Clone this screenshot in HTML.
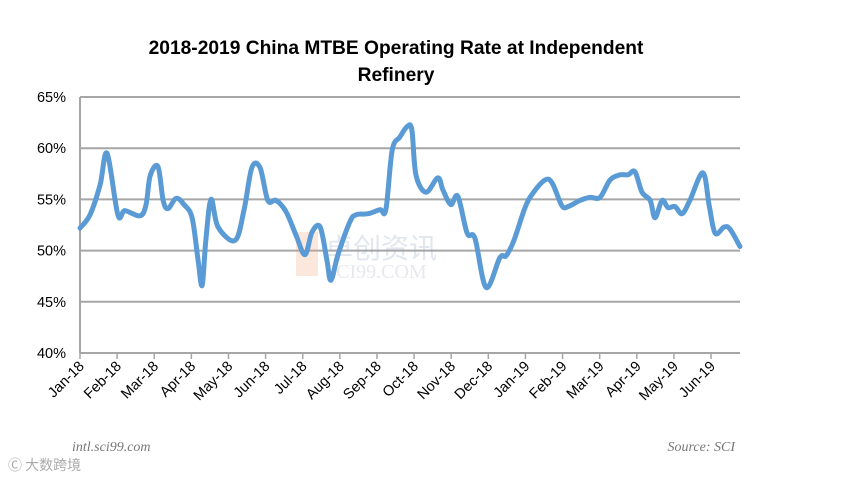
<!DOCTYPE html>
<html><head><meta charset="utf-8"><style>
body{margin:0;background:#fff;width:842px;height:480px;overflow:hidden;font-family:"Liberation Sans",sans-serif}
</style></head><body>
<svg width="842" height="480" id="svg">
<text x="396" y="54" text-anchor="middle" font-size="19.2" font-weight="bold" fill="#000">2018-2019 China MTBE Operating Rate at Independent</text>
<text x="396" y="81" text-anchor="middle" font-size="19.2" font-weight="bold" fill="#000">Refinery</text>
<g id="grid"></g><g id="axes"></g>
<g opacity="0.25">
<rect x="296" y="232" width="22" height="44" fill="#f4a37c"/>
<text x="325" y="258" font-size="28" fill="#8aa0c0" font-family="Noto Sans CJK SC,sans-serif">卓创资讯</text>
<text x="325" y="278" font-size="20" fill="#a0a8b8" font-family="Liberation Serif,serif">SCI99.COM</text>
</g>
<path id="line" fill="none" stroke="#5b9bd5" stroke-width="5" stroke-linejoin="round" stroke-linecap="round"/>
<text x="72" y="451" font-size="14" font-style="italic" fill="#777" font-family="Liberation Serif,serif">intl.sci99.com</text>
<text x="735" y="451" text-anchor="end" font-size="14" font-style="italic" fill="#777" font-family="Liberation Serif,serif">Source: SCI</text>
<text x="8" y="470" font-size="14" fill="#aaa" font-family="Noto Sans CJK SC,sans-serif">Ⓒ 大数跨境</text>
</svg>
<script>
const yTicks=[40,45,50,55,60,65];
const months=["Jan-18","Feb-18","Mar-18","Apr-18","May-18","Jun-18","Jul-18","Aug-18","Sep-18","Oct-18","Nov-18","Dec-18","Jan-19","Feb-19","Mar-19","Apr-19","May-19","Jun-19"];
const t=[0,.27,.54,.73,1.02,1.21,1.62,1.78,1.89,2.10,2.24,2.37,2.59,2.80,3.02,3.18,3.29,3.39,3.53,3.72,4.18,4.42,4.63,4.85,5.06,5.28,5.55,5.82,6.06,6.25,6.47,6.65,6.76,6.95,7.27,7.44,7.76,8.08,8.24,8.41,8.62,8.81,8.94,9.05,9.32,9.64,9.78,9.99,10.18,10.43,10.64,10.94,11.31,11.48,11.69,11.99,12.20,12.53,12.72,12.98,13.15,13.47,13.74,14.01,14.28,14.55,14.76,14.95,15.14,15.36,15.49,15.68,15.84,16.03,16.22,16.43,16.78,16.95,17.11,17.35,17.51,17.78];
const rate=[52.2,53.5,56.4,59.5,53.5,53.9,53.4,54.5,57.3,58.2,54.9,54.1,55.1,54.5,53.2,49.1,46.6,51.0,55.0,52.3,51.0,54.0,58.1,58.1,54.9,54.9,53.8,51.5,49.6,51.8,52.3,49.1,47.1,49.6,52.8,53.5,53.6,54.0,54.0,59.8,61.1,62.1,61.8,57.4,55.7,57.1,55.9,54.5,55.3,51.7,51.2,46.4,49.3,49.5,51.0,54.2,55.6,56.9,56.6,54.4,54.3,54.9,55.2,55.2,56.9,57.4,57.4,57.7,55.7,54.9,53.2,54.9,54.2,54.3,53.6,54.9,57.6,54.4,51.7,52.3,52.1,50.4];
const X0=80,X1=740,MW=37.12,Y0=353,Y1=97;
const xs=m=>X0+m*MW, ys=v=>Y0-(v-40)/25*(Y0-Y1);
const NS="http://www.w3.org/2000/svg";
const grid=document.getElementById('grid'),axes=document.getElementById('axes');
function mk(tag,at,par){const e=document.createElementNS(NS,tag);for(const k in at)e.setAttribute(k,at[k]);par.appendChild(e);return e;}
yTicks.forEach(v=>{
 const l=mk('line',{x1:X0,x2:X1,y1:ys(v),y2:ys(v),stroke:'#a6a6a6','stroke-width':2},grid);
 
 
 const tx=mk('text',{x:X0-14,y:ys(v)+5,'text-anchor':'end','font-size':14.5,fill:'#000'},axes);
 tx.textContent=v+'%';
 
 
});
const ya=mk('line',{x1:X0,x2:X0,y1:Y1,y2:Y0,stroke:'#a6a6a6','stroke-width':2},axes);


months.forEach((m,i)=>{
 const x=xs(i);
 const tk=mk('line',{x1:x,x2:x,y1:Y0,y2:Y0+6,stroke:'#a6a6a6','stroke-width':1.5},axes);
 
 
 const tx=mk('text',{x:x+5,y:Y0+14,'text-anchor':'end','font-size':14.5,fill:'#000',transform:`rotate(-45 ${x+5} ${Y0+14})`},axes);
 tx.textContent=m;
 
 
});
const P=t.map((m,i)=>[xs(m),ys(rate[i])]);
let d=`M${P[0][0]},${P[0][1]}`;
for(let i=0;i<P.length-1;i++){
 const p0=P[Math.max(i-1,0)],p1=P[i],p2=P[i+1],p3=P[Math.min(i+2,P.length-1)];
 const c1=[p1[0]+(p2[0]-p0[0])/6,p1[1]+(p2[1]-p0[1])/6],c2=[p2[0]-(p3[0]-p1[0])/6,p2[1]-(p3[1]-p1[1])/6];
 d+=`C${c1[0]},${c1[1]} ${c2[0]},${c2[1]} ${p2[0]},${p2[1]}`;
}
document.getElementById('line').setAttribute('d',d);
</script>
</body></html>
